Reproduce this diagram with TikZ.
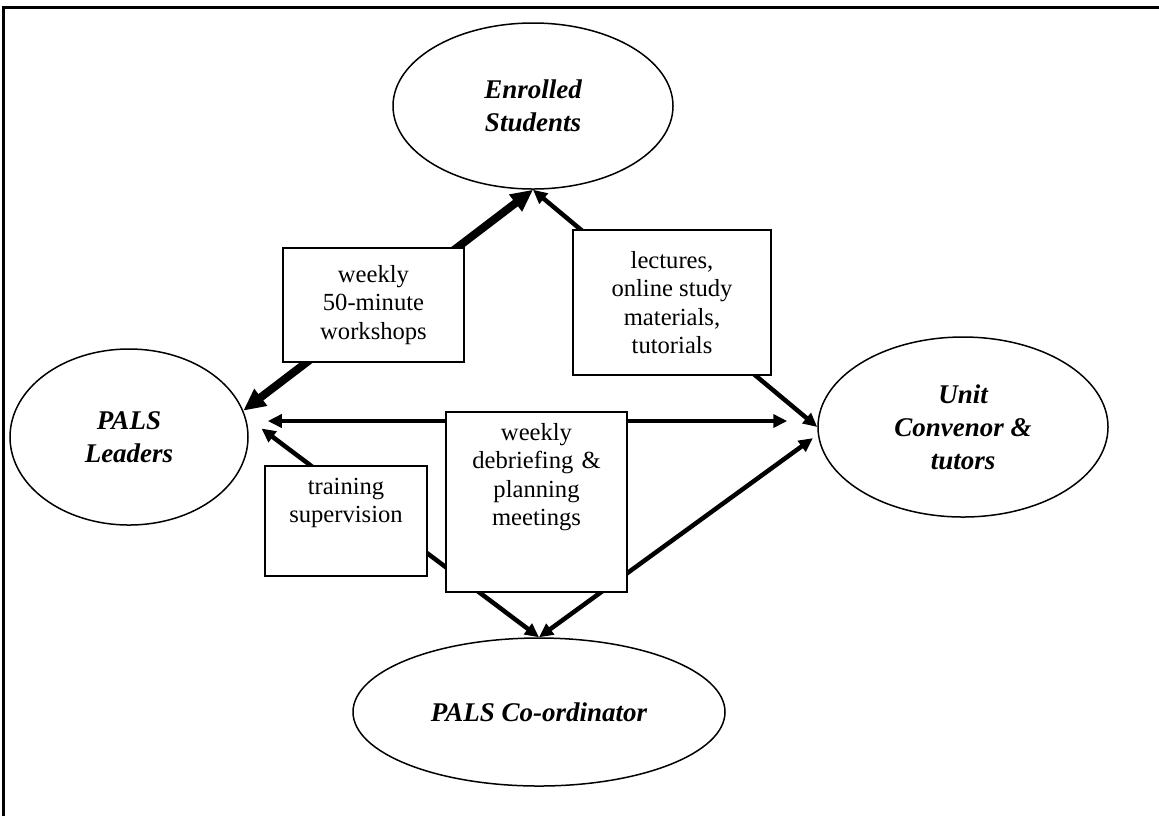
\documentclass[tikz,border=0pt]{standalone}
\usepackage{fontspec}
\setmainfont{Liberation Serif}
\usetikzlibrary{arrows.meta,shapes.geometric}
\begin{document}
\begin{tikzpicture}[x=0.5pt, y=-0.5pt, every node/.style={font=\fontsize{12.3}{14.25}\selectfont},
  party/.style={draw, ellipse, line width=0.75pt, inner sep=0pt, align=center, font=\fontsize{13.5}{16.5}\selectfont\bfseries\itshape},
  lbl/.style={draw, fill=white, line width=0.7pt, align=center, inner sep=0pt},
  toplbl/.style={lbl, inner xsep=3pt, inner ysep=5pt, text height=9pt},
  link/.style={{Triangle[length=7pt,width=6.5pt]}-{Triangle[length=7pt,width=6.5pt]}, line width=2.25pt},
  biglink/.style={{Triangle[length=11pt,width=10pt]}-{Triangle[length=11pt,width=10pt]}, line width=4pt}]
  \useasboundingbox (0,0) rectangle (1159,816);
  \draw[line width=1.9pt] (3.5,816) -- (3.5,7.5) -- (1159,7.5);
  \node[party, minimum width=140pt, minimum height=83pt] (enrolled) at (533,106) {Enrolled\\Students};
  \node[party, minimum width=119pt, minimum height=88pt] (leaders) at (129,437) {PALS\\Leaders};
  \node[party, minimum width=145pt, minimum height=90pt] (unit) at (963,427) {Unit\\Convenor \&\\tutors};
  \node[party, minimum width=186pt, minimum height=74pt] (coord) at (539,712) {PALS Co-ordinator};
  \coordinate (hline) at (540,421);
  \draw[biglink] (leaders.13) -- (enrolled.south);
  \draw[link] (unit.west) -- (enrolled.south);
  \draw[link, shorten <=9.5pt, shorten >=15pt] (leaders.east |- hline) -- (unit.west |- hline);
  \draw[link, shorten <=10pt] (leaders.10) -- (coord.north);
  \draw[link, shorten >=3pt] (coord.north) -- (unit.183);
  \node[lbl, minimum width=90.5pt, minimum height=57pt] (workbox) at (373.5,305) {weekly\\50-minute\\workshops};
  \node[lbl, minimum width=99pt, minimum height=72.5pt] (lectbox) at (672,302.5) {lectures,\\online study\\materials,\\tutorials};
  \node[toplbl, text width=75pt, text depth=36pt] (trainbox) at (346,521) {training\\supervision};
  \node[toplbl, text width=84.5pt, text depth=71pt] (meetbox) at (536.5,502) {weekly\\debriefing \&\\planning\\meetings};
\end{tikzpicture}
\end{document}
